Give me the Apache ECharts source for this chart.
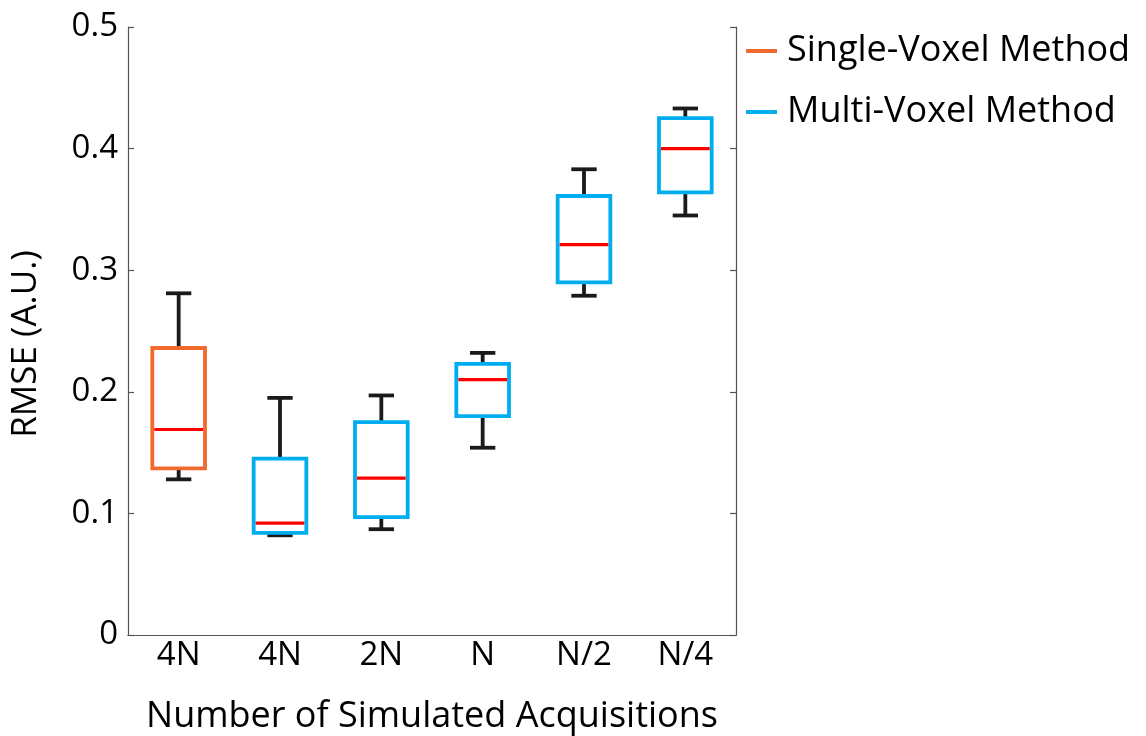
<!DOCTYPE html>
<html>
<head>
<meta charset="utf-8">
<script src="https://cdn.jsdelivr.net/npm/echarts@6/dist/echarts.min.js"></script>
<style>
  html, body { margin: 0; padding: 0; background: #fff; }
  #chart { width: 1146px; height: 736px; }
</style>
</head>
<body>
<div id="chart"></div>
<script>
// Group labels along the horizontal axis
const categories = ['4N', '4N', '2N', 'N', 'N/2', 'N/4'];

// Box statistics per group: [lower whisker, Q1, median, Q3, upper whisker]
const singleVoxel = [
  [0.128, 0.137, 0.169, 0.236, 0.281]
];
const multiVoxel = [
  [0.082, 0.084, 0.092, 0.145, 0.195],
  [0.087, 0.097, 0.129, 0.175, 0.197],
  [0.154, 0.180, 0.210, 0.223, 0.232],
  [0.279, 0.290, 0.321, 0.361, 0.383],
  [0.345, 0.364, 0.400, 0.425, 0.433]
];
// Category index each box sits on
const singleVoxelIndex = [0];
const multiVoxelIndex = [1, 2, 3, 4, 5];

const yTicks = { min: 0, max: 0.5, interval: 0.1 };

const FONT = 'Open Sans';
const ORANGE = '#F06A2E';
const BLUE = '#00AEEF';

function boxRenderer(color) {
  return function (params, api) {
    const x = api.value(0);
    const lo = api.coord([x, api.value(1)]);
    const q1 = api.coord([x, api.value(2)]);
    const md = api.coord([x, api.value(3)]);
    const q3 = api.coord([x, api.value(4)]);
    const hi = api.coord([x, api.value(5)]);
    const band = api.size([1, 0])[0];
    const bw = band * 0.26;
    const cw = band * 0.125;
    const cx = lo[0];
    const black = { stroke: '#1a1a1a', lineWidth: 3.8 };
    return {
      type: 'group',
      children: [
        { type: 'line', shape: { x1: cx, y1: q3[1], x2: cx, y2: hi[1] }, style: black },
        { type: 'line', shape: { x1: cx, y1: q1[1], x2: cx, y2: lo[1] }, style: black },
        { type: 'line', shape: { x1: cx - cw, y1: hi[1], x2: cx + cw, y2: hi[1] }, style: black },
        { type: 'line', shape: { x1: cx - cw, y1: lo[1], x2: cx + cw, y2: lo[1] }, style: black },
        { type: 'rect', shape: { x: cx - bw, y: q3[1], width: 2 * bw, height: q1[1] - q3[1] },
          style: { fill: '#fff', stroke: color, lineWidth: 3.8 } },
        { type: 'line', shape: { x1: cx - bw + 2, y1: md[1], x2: cx + bw - 2, y2: md[1] },
          style: { stroke: '#FF0000', lineWidth: 3.2 } }
      ]
    };
  };
}

function toRows(idx, stats) {
  return stats.map((s, i) => [idx[i]].concat(s));
}

const axisLineStyle = { color: '#555', width: 1.2 };

const chart = echarts.init(document.getElementById('chart'), null, { renderer: 'canvas' });
chart.setOption({
  animation: false,
  backgroundColor: '#fff',
  textStyle: { fontFamily: FONT },
  grid: { left: 128, top: 27, right: 410, bottom: 101, containLabel: false, outerBoundsMode: 'none' },
  legend: {
    left: 741,
    top: 28,
    orient: 'vertical',
    icon: 'rect',
    itemWidth: 31,
    itemHeight: 4,
    itemGap: 25,
    textStyle: { fontFamily: FONT, fontSize: 36, color: '#000', padding: [0, 0, 0, 5] },
    data: [
      { name: 'Single-Voxel Method', itemStyle: { color: ORANGE } },
      { name: 'Multi-Voxel Method', itemStyle: { color: BLUE } }
    ]
  },
  xAxis: [
    {
      type: 'category',
      data: categories,
      position: 'bottom',
      axisLine: { lineStyle: axisLineStyle },
      axisTick: { alignWithLabel: true, inside: true, length: 6, lineStyle: axisLineStyle },
      axisLabel: { color: '#000', fontSize: 33, fontFamily: FONT, margin: 4 },
      name: 'Number of Simulated Acquisitions',
      nameLocation: 'middle',
      nameGap: 64,
      nameTextStyle: { color: '#000', fontSize: 36, fontFamily: FONT },
      splitLine: { show: false }
    },
    {
      type: 'category',
      data: categories,
      position: 'top',
      axisLine: { lineStyle: axisLineStyle },
      axisTick: { alignWithLabel: true, inside: true, length: 6, lineStyle: axisLineStyle },
      axisLabel: { show: false }
    }
  ],
  yAxis: [
    {
      type: 'value',
      min: yTicks.min,
      max: yTicks.max,
      interval: yTicks.interval,
      position: 'left',
      axisLine: { show: true, lineStyle: axisLineStyle },
      axisTick: { show: true, inside: true, length: 6, lineStyle: axisLineStyle },
      axisLabel: { color: '#000', fontSize: 33, fontFamily: FONT, margin: 10 },
      splitLine: { show: false },
      name: 'RMSE (A.U.)',
      nameLocation: 'middle',
      nameGap: 84,
      nameTextStyle: { color: '#000', fontSize: 35, fontFamily: FONT, padding: [0, 26, 0, 0] }
    },
    {
      type: 'value',
      min: yTicks.min,
      max: yTicks.max,
      interval: yTicks.interval,
      position: 'right',
      axisLine: { show: true, lineStyle: axisLineStyle },
      axisTick: { show: true, inside: true, length: 6, lineStyle: axisLineStyle },
      axisLabel: { show: false },
      splitLine: { show: false }
    }
  ],
  series: [
    {
      name: 'Single-Voxel Method',
      type: 'custom',
      xAxisIndex: 0,
      yAxisIndex: 0,
      itemStyle: { color: ORANGE },
      renderItem: boxRenderer(ORANGE),
      encode: { x: 0, y: [1, 2, 3, 4, 5] },
      data: toRows(singleVoxelIndex, singleVoxel)
    },
    {
      name: 'Multi-Voxel Method',
      type: 'custom',
      xAxisIndex: 0,
      yAxisIndex: 0,
      itemStyle: { color: BLUE },
      renderItem: boxRenderer(BLUE),
      encode: { x: 0, y: [1, 2, 3, 4, 5] },
      data: toRows(multiVoxelIndex, multiVoxel)
    }
  ]
});
</script>
</body>
</html>
